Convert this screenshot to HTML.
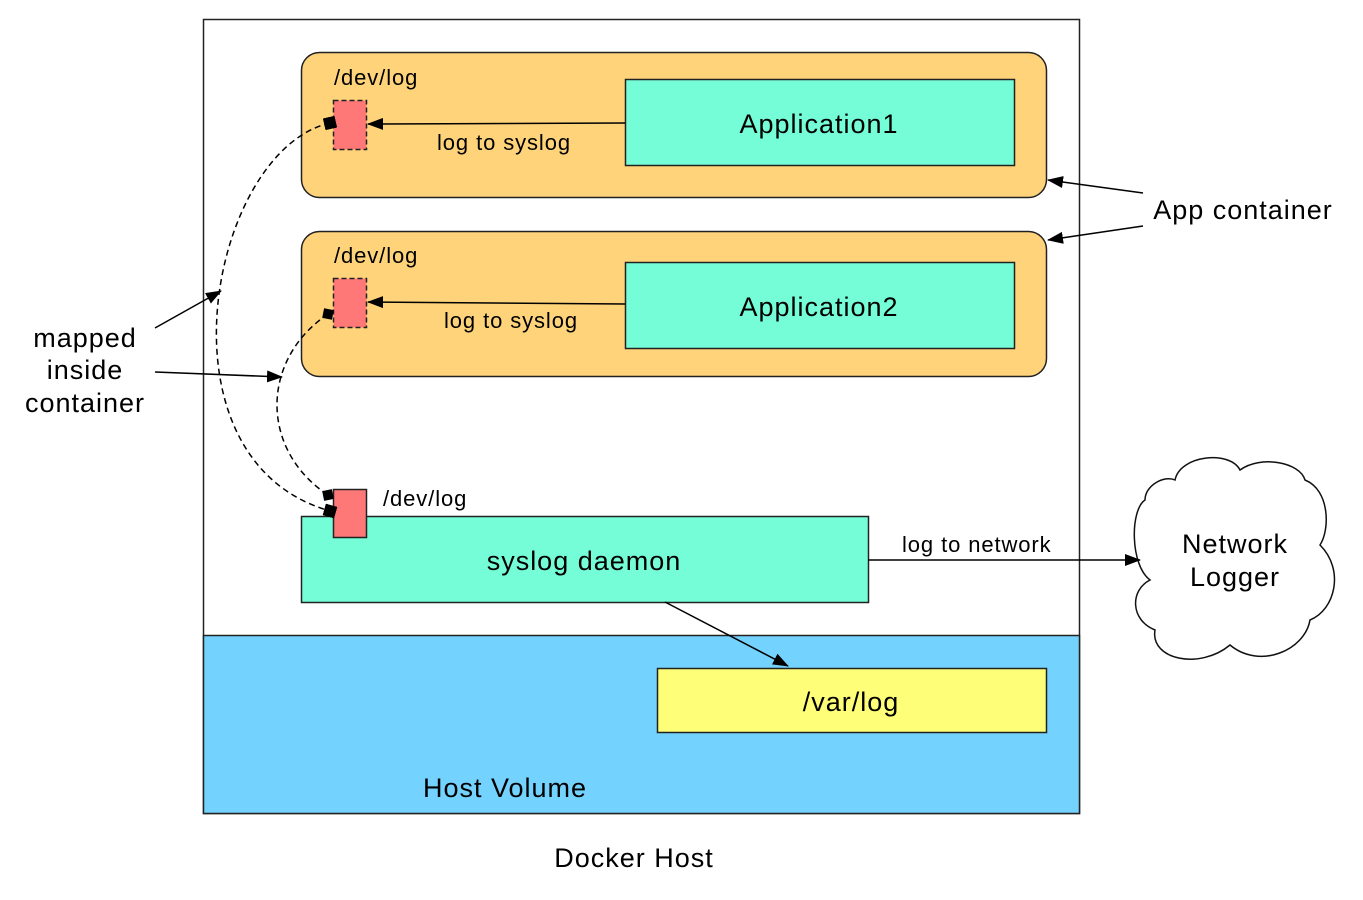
<!DOCTYPE html>
<html><head><meta charset="utf-8"><style>
html,body{margin:0;padding:0;background:#fff;}
svg{display:block;font-family:"Liberation Sans",sans-serif;}
.s{font-size:22px;letter-spacing:0.9px;}
.l{font-size:27px;letter-spacing:1px;}
</style></head><body>
<svg width="1363" height="900" viewBox="0 0 1363 900" xmlns="http://www.w3.org/2000/svg">
<defs>
<marker id="a" markerWidth="16" markerHeight="12" refX="15" refY="6" orient="auto" markerUnits="userSpaceOnUse"><path d="M0,0 L16,6 L0,12 Z" fill="#000"/></marker>
<marker id="sq" markerWidth="12" markerHeight="12" refX="6" refY="6" orient="auto" markerUnits="userSpaceOnUse"><rect x="0" y="0" width="12" height="12" fill="#000"/></marker>
<marker id="dm" markerWidth="14" markerHeight="14" refX="7" refY="7" orient="auto" markerUnits="userSpaceOnUse"><path d="M0,7 L7,0 L14,7 L7,14 Z" fill="#000"/></marker>
</defs>
<rect x="203.5" y="19.5" width="876" height="794" fill="#fff" stroke="#222" stroke-width="1.5"/>
<rect x="203.5" y="635.5" width="876" height="178" fill="#74d3fe" stroke="#222" stroke-width="1.5"/>
<rect x="301.5" y="52.5" width="745" height="145" rx="18" fill="#fed37a" stroke="#222" stroke-width="1.5"/>
<rect x="301.5" y="231.5" width="745" height="145" rx="18" fill="#fed37a" stroke="#222" stroke-width="1.5"/>
<rect x="625.5" y="79.5" width="389" height="86" fill="#74fdd6" stroke="#222" stroke-width="1.5"/>
<rect x="625.5" y="262.5" width="389" height="86" fill="#74fdd6" stroke="#222" stroke-width="1.5"/>
<rect x="333.5" y="100.5" width="33" height="49" fill="#fe7878" stroke="#222" stroke-width="1.5" stroke-dasharray="5,3"/>
<rect x="333.5" y="278.5" width="33" height="49" fill="#fe7878" stroke="#222" stroke-width="1.5" stroke-dasharray="5,3"/>
<rect x="301.5" y="516.5" width="567" height="86" fill="#74fdd6" stroke="#222" stroke-width="1.5"/>
<rect x="333.5" y="489.5" width="33" height="48" fill="#fe7878" stroke="#222" stroke-width="1.5"/>
<rect x="657.5" y="668.5" width="389" height="64" fill="#fefe78" stroke="#222" stroke-width="1.5"/>
<path d="M1175,480 C1180,455 1230,450 1240,470 C1260,455 1300,462 1305,480 C1330,490 1330,530 1320,545 C1345,570 1335,610 1310,620 C1305,650 1260,670 1230,645 C1200,670 1150,660 1155,630 C1130,620 1130,590 1150,580 C1130,565 1130,510 1145,500 C1145,485 1165,475 1175,480 Z" fill="#fff" stroke="#111" stroke-width="1.5"/>
<g stroke="#000" stroke-width="1.5" fill="none">
<line x1="625" y1="123" x2="368" y2="124" marker-end="url(#a)"/>
<line x1="625" y1="304" x2="368" y2="302" marker-end="url(#a)"/>
<line x1="868" y1="560" x2="1140" y2="560" marker-end="url(#a)"/>
<line x1="665" y1="602" x2="788" y2="666" marker-end="url(#a)"/>
<line x1="155" y1="328" x2="221" y2="291" marker-end="url(#a)"/>
<line x1="155" y1="372" x2="282" y2="377" marker-end="url(#a)"/>
<line x1="1143" y1="193" x2="1048" y2="180" marker-end="url(#a)"/>
<line x1="1143" y1="226" x2="1048" y2="240" marker-end="url(#a)"/>
<path d="M330,123 C210,150 150,460 330,511" stroke-dasharray="6,4" marker-start="url(#sq)" marker-end="url(#sq)"/>
<path d="M328,314 C260,360 260,450 328,495" stroke-dasharray="6,4" marker-start="url(#dm)" marker-end="url(#dm)"/>
</g>
<g fill="#000">
<text x="334" y="85" class="s">/dev/log</text>
<text x="334" y="263" class="s">/dev/log</text>
<text x="383" y="506" class="s">/dev/log</text>
<text x="437" y="150" class="s">log to syslog</text>
<text x="444" y="328" class="s">log to syslog</text>
<text x="902" y="552" class="s">log to network</text>
<text x="819" y="133" class="l" text-anchor="middle">Application1</text>
<text x="819" y="316" class="l" text-anchor="middle">Application2</text>
<text x="584" y="570" class="l" text-anchor="middle">syslog daemon</text>
<text x="851" y="711" class="l" text-anchor="middle">/var/log</text>
<text x="505" y="797" class="l" text-anchor="middle">Host Volume</text>
<text x="634" y="867" class="l" text-anchor="middle">Docker Host</text>
<text x="1243" y="219" class="l" text-anchor="middle">App container</text>
<text x="1235" y="553" class="l" text-anchor="middle">Network</text>
<text x="1235" y="586" class="l" text-anchor="middle">Logger</text>
<text x="85" y="347" class="l" text-anchor="middle">mapped</text>
<text x="85" y="379" class="l" text-anchor="middle">inside</text>
<text x="85" y="412" class="l" text-anchor="middle">container</text>
</g>
</svg>
</body></html>
